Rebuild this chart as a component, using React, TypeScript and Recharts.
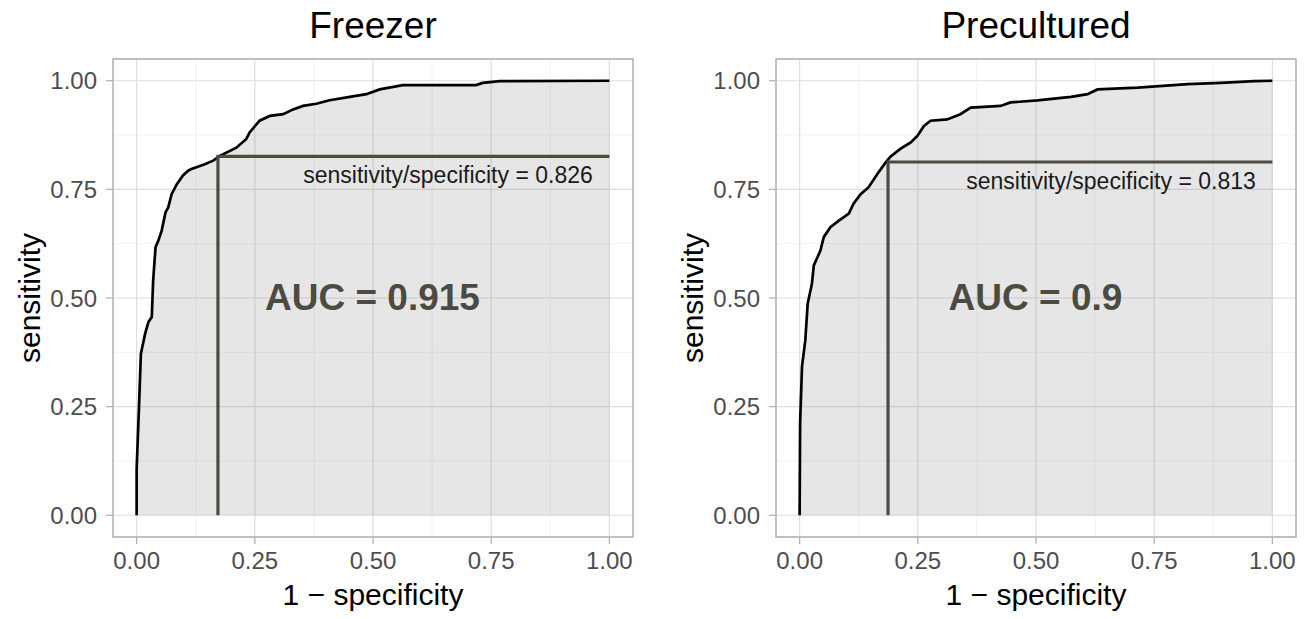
import { Area, CartesianGrid, ComposedChart, Line, ReferenceArea, ReferenceDot, XAxis, YAxis } from 'recharts';

// Freezer ROC curve (1 - specificity, sensitivity)
const freezerFpr = [0, 0, 0.005, 0.009, 0.018, 0.025, 0.032, 0.035, 0.04, 0.046, 0.053, 0.061, 0.067, 0.074, 0.085, 0.098, 0.109, 0.116, 0.144, 0.162, 0.176, 0.211, 0.232, 0.239, 0.26, 0.282, 0.31, 0.331, 0.352, 0.38, 0.408, 0.451, 0.486, 0.514, 0.563, 0.718, 0.732, 0.768, 1];
const freezerTpr = [0, 0.105, 0.25, 0.372, 0.418, 0.445, 0.456, 0.541, 0.617, 0.632, 0.655, 0.697, 0.709, 0.739, 0.762, 0.782, 0.793, 0.797, 0.808, 0.816, 0.827, 0.846, 0.866, 0.881, 0.908, 0.919, 0.923, 0.934, 0.942, 0.947, 0.955, 0.963, 0.969, 0.98, 0.99, 0.99, 0.995, 0.999, 1];

// Precultured ROC curve
const precultFpr = [0, 0.001, 0.005, 0.012, 0.017, 0.026, 0.03, 0.044, 0.051, 0.065, 0.083, 0.104, 0.114, 0.129, 0.146, 0.164, 0.182, 0.192, 0.213, 0.235, 0.249, 0.263, 0.277, 0.312, 0.34, 0.362, 0.425, 0.446, 0.503, 0.574, 0.609, 0.63, 0.715, 0.821, 0.891, 0.962, 1];
const precultTpr = [0, 0.212, 0.342, 0.403, 0.487, 0.533, 0.575, 0.609, 0.64, 0.663, 0.678, 0.694, 0.717, 0.739, 0.755, 0.785, 0.812, 0.825, 0.843, 0.858, 0.873, 0.896, 0.908, 0.911, 0.923, 0.938, 0.942, 0.95, 0.955, 0.963, 0.969, 0.98, 0.984, 0.992, 0.995, 0.999, 1];

const majorTicks = [0, 0.25, 0.5, 0.75, 1];
const minorTicks = [0.125, 0.375, 0.625, 0.875];

const FONT = '"Liberation Sans", Arial, Helvetica, sans-serif';
const W = 658;
const H = 619;
const DOMAIN: [number, number] = [-0.05, 1.05];

const zip = (xs: number[], ys: number[]) => xs.map((x, i) => ({ x, y: ys[i] }));

interface PanelProps {
    title: string;
    fpr: number[];
    tpr: number[];
    cutX: number;
    cutY: number;
    auc: string;
    left: number;
}

function Panel({ title, fpr, tpr, cutX, cutY, auc, left }: PanelProps) {
    const curve = zip(fpr, tpr);
    const cut = [
        { x: cutX, y: 0 },
        { x: cutX, y: cutY },
        { x: 1, y: cutY },
    ];
    return (
        <div style={{ position: 'absolute', left, top: 0, width: W, height: H, fontFamily: FONT }}>
            <div style={{ position: 'absolute', left: 113, width: 520, top: 4, textAlign: 'center', fontSize: 37, lineHeight: '44px', color: '#000' }}>
                {title}
            </div>
            <div style={{ position: 'absolute', left: 113, width: 520, top: 577, textAlign: 'center', fontSize: 30, lineHeight: '36px', color: '#000' }}>
                1 − specificity
            </div>
            <div
                style={{
                    position: 'absolute',
                    left: 30 - 100,
                    top: 298 - 18,
                    width: 200,
                    textAlign: 'center',
                    fontSize: 30,
                    lineHeight: '36px',
                    transform: 'rotate(-90deg)',
                    color: '#000',
                }}
            >
                sensitivity
            </div>
            <ComposedChart width={W} height={H} data={curve} margin={{ top: 59, right: 25, bottom: 0, left: 0 }} style={{ position: 'absolute', left: 0, top: 0 }}>
                <XAxis xAxisId="minor" dataKey="x" type="number" domain={DOMAIN} ticks={minorTicks} allowDataOverflow hide />
                <YAxis yAxisId="minor" type="number" domain={DOMAIN} ticks={minorTicks} allowDataOverflow hide />
                <CartesianGrid xAxisId="minor" yAxisId="minor" stroke="#EDEDED" strokeWidth={0.8} />
                <CartesianGrid stroke="#DEDEDE" strokeWidth={1.2} />
                <XAxis
                    dataKey="x"
                    type="number"
                    domain={DOMAIN}
                    ticks={majorTicks}
                    allowDataOverflow
                    height={82}
                    axisLine={false}
                    tickLine={{ stroke: '#B3B3B3', strokeWidth: 1.3 }}
                    tickSize={7}
                    tickMargin={8}
                    tickFormatter={(v: number) => v.toFixed(2)}
                    tick={{ fill: '#4D4D4D', fontSize: 24, fontFamily: FONT }}
                />
                <YAxis
                    type="number"
                    domain={DOMAIN}
                    ticks={majorTicks}
                    allowDataOverflow
                    width={113}
                    axisLine={false}
                    tickLine={{ stroke: '#B3B3B3', strokeWidth: 1.3 }}
                    tickSize={7}
                    tickMargin={9}
                    tickFormatter={(v: number) => v.toFixed(2)}
                    tick={{ fill: '#4D4D4D', fontSize: 24, fontFamily: FONT }}
                />
                <Area
                    dataKey="y"
                    type="linear"
                    stroke="#000"
                    strokeWidth={2.7}
                    fill="#808080"
                    fillOpacity={0.2}
                    isAnimationActive={false}
                    dot={false}
                    activeDot={false}
                />
                <Line data={cut} dataKey="y" type="linear" stroke="#4D4A42" strokeWidth={3.2} dot={false} activeDot={false} isAnimationActive={false} />
                <ReferenceArea x1={-0.05} x2={1.05} y1={-0.05} y2={1.05} fill="none" stroke="#B3B3B3" strokeWidth={1.4} />
                <ReferenceDot
                    x={0.966}
                    y={cutY - 0.045}
                    r={0.5}
                    fill="none"
                    stroke="none"
                    label={(p: any) => (
                        <text x={p.viewBox.x} y={p.viewBox.y} textAnchor="end" dominantBaseline="central" fontSize={23} fontFamily={FONT} fill="#1A1A1A">
                            {`sensitivity/specificity = ${cutY.toFixed(3)}`}
                        </text>
                    )}
                />
                <ReferenceDot
                    x={0.5}
                    y={0.5}
                    r={0.5}
                    fill="none"
                    stroke="none"
                    label={(p: any) => (
                        <text x={p.viewBox.x} y={p.viewBox.y} textAnchor="middle" dominantBaseline="central" fontSize={37} fontWeight="bold" fontFamily={FONT} fill="#4D4A42">
                            {`AUC = ${auc}`}
                        </text>
                    )}
                />
            </ComposedChart>
        </div>
    );
}

export default function App() {
    return (
        <div style={{ position: 'absolute', left: 0, top: 0, width: 1316, height: 619, background: '#fff', overflow: 'hidden' }}>
            <Panel title="Freezer" fpr={freezerFpr} tpr={freezerTpr} cutX={0.172} cutY={0.826} auc="0.915" left={0} />
            <Panel title="Precultured" fpr={precultFpr} tpr={precultTpr} cutX={0.187} cutY={0.813} auc="0.9" left={663} />
        </div>
    );
}
